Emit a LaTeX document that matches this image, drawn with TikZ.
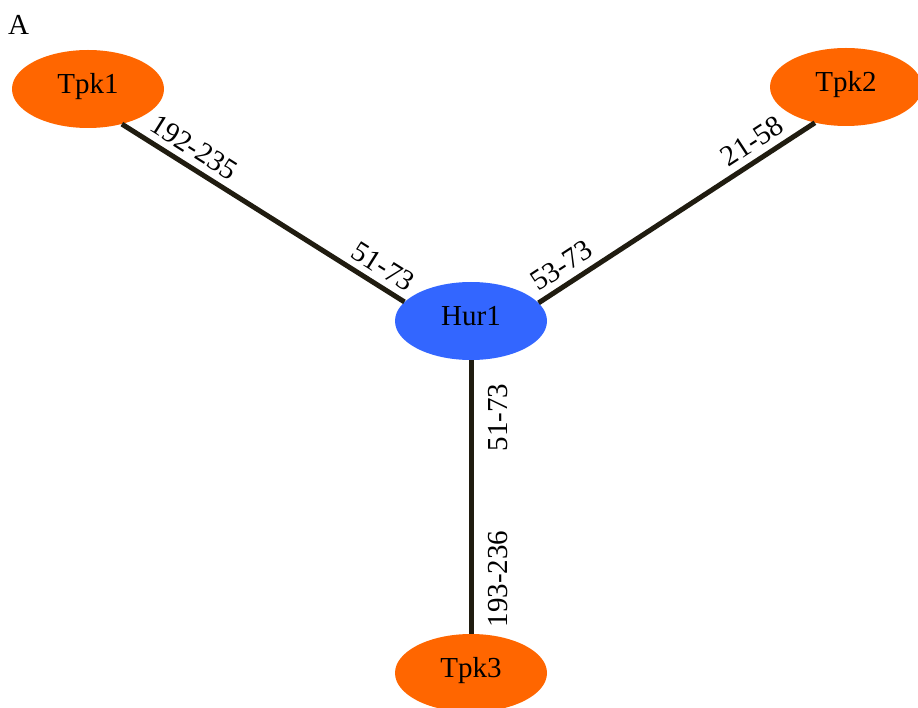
\documentclass[tikz,border=0pt]{standalone}
\usepackage{fontspec}
\setmainfont{Liberation Serif}
\usetikzlibrary{shapes.geometric}
\definecolor{nodeorange}{RGB}{255,102,0}
\definecolor{nodeblue}{RGB}{51,102,255}
\definecolor{edgecol}{RGB}{32,28,16}
\begin{document}
\begin{tikzpicture}[x=1pt,y=1pt,
  bigfont/.style={font=\fontsize{29}{34}\selectfont},
  prot/.style={ellipse, minimum width=152pt, minimum height=78pt, inner sep=0pt,
    bigfont, text height=19.7pt, text depth=10.2pt},
  link/.style={draw=edgecol, line width=5pt},
  elab/.style={bigfont, sloped, inner sep=6.5pt}
]
\useasboundingbox (0,0) rectangle (918,-708);
\node[anchor=base west, inner sep=0pt, bigfont] (lblA) at (8,-35) {A};
\node[prot, fill=nodeorange] (tpk1) at (88,-89) {Tpk1};
\node[prot, fill=nodeorange] (tpk2) at (846,-87) {Tpk2};
\node[prot, fill=nodeblue] (hur1) at (471,-321) {Hur1};
\node[prot, fill=nodeorange] (tpk3) at (471,-673) {Tpk3};
\draw[link] (tpk1.-46.6) -- node[elab, above, pos=0.22]{192-235} node[elab, above, pos=0.89]{51-73} (hur1.164.4);
\draw[link] (hur1.15.8) -- node[elab, above, pos=0.12]{53-73} node[elab, above, pos=0.81]{21-58} (tpk2.229);
\draw[link] (tpk3.north) -- node[elab, below, allow upside down, pos=0.2, inner sep=15pt]{193-236} node[elab, below, allow upside down, pos=0.79, inner sep=15pt]{51-73} (hur1.south);
\end{tikzpicture}
\end{document}
